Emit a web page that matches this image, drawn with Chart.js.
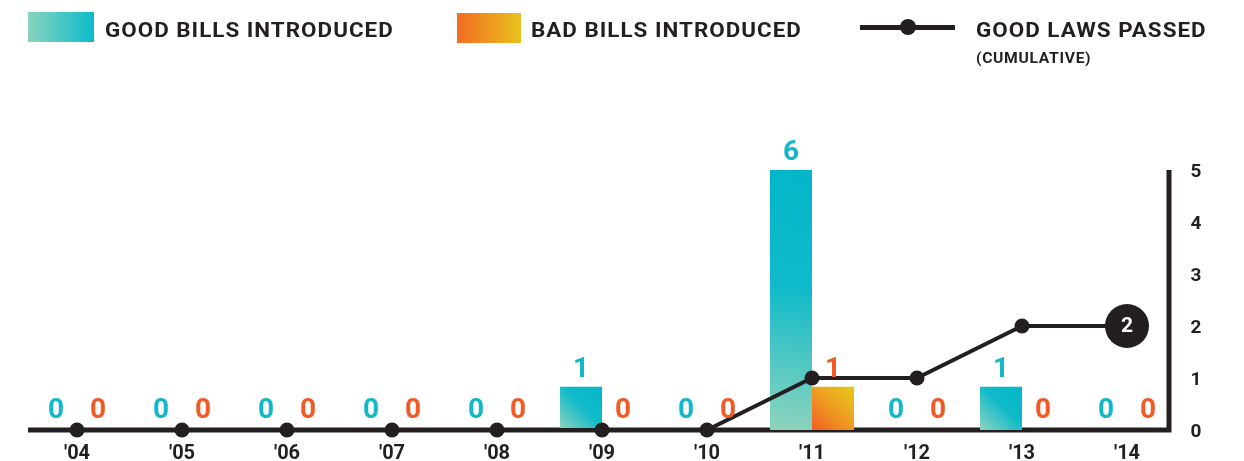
<!DOCTYPE html>
<html>
<head>
<meta charset="utf-8">
<script src="https://cdn.jsdelivr.net/npm/chart.js@4"></script>
<style>
  html, body { margin: 0; padding: 0; background: #fff; }
  .wrap { position: relative; width: 1244px; height: 461px; overflow: hidden; }
  canvas { position: absolute; left: 0; top: 0; }
  .legend { position: absolute; font-family: Roboto, 'Liberation Sans', sans-serif; font-weight: 700; color: #231f20; }
  .swatch { position: absolute; }
  .ltext { position: absolute; font-size: 20px; letter-spacing: 0.9px; white-space: nowrap; line-height: 1; transform: scaleX(1.12); transform-origin: left top; }
  .lsub { position: absolute; font-size: 14px; letter-spacing: 0.6px; white-space: nowrap; line-height: 1; transform: scaleX(1.12); transform-origin: left top; }
</style>
</head>
<body>
<div class="wrap">
  <canvas id="billsChart" width="1244" height="478"></canvas>
  <div class="legend">
    <div class="swatch" style="left:28px;top:12px;width:66px;height:30px;background:linear-gradient(to right,#8ad3be,#0bbccb);"></div>
    <div class="ltext" style="left:105px;top:20px;">GOOD BILLS INTRODUCED</div>
    <div class="swatch" style="left:457px;top:13px;width:64px;height:30px;background:linear-gradient(to right,#f26d22,#e8c11d);"></div>
    <div class="ltext" style="left:531px;top:20px;">BAD BILLS INTRODUCED</div>
    <div class="swatch" style="left:860px;top:24.5px;width:95px;height:5px;background:#231f20;"></div>
    <div class="swatch" style="left:900px;top:19px;width:16px;height:16px;border-radius:50%;background:#231f20;"></div>
    <div class="ltext" style="left:976px;top:20px;">GOOD LAWS PASSED</div>
    <div class="lsub" style="left:976px;top:51px;">(CUMULATIVE)</div>
  </div>
</div>
<script>
// valores
const years = ["'04", "'05", "'06", "'07", "'08", "'09", "'10", "'11", "'12", "'13", "'14"];
const goodBills = [0, 0, 0, 0, 0, 1, 0, 6, 0, 1, 0];
const badBills = [0, 0, 0, 0, 0, 0, 0, 1, 0, 0, 0];
const goodLaws = [0, 0, 0, 0, 0, 0, 0, 1, 1, 2, 2];
const lawTicks = [0, 1, 2, 3, 4, 5];

const INK = '#231f20';
const TEAL = '#12b8c9';
const ORANGE = '#f15a24';
const FONT = "Roboto, 'Liberation Sans', sans-serif";

// gradiente diagonal (baixo-esquerda -> cima-direita) para cada barra
function barGradient(context, stops) {
    const chart = context.chart;
    const { chartArea, scales } = chart;
    if (!chartArea || context.dataIndex === undefined) return stops[stops.length - 1][1];
    const cx = scales.x.getPixelForValue(context.dataIndex);
    const w = (scales.x.width / years.length) * 0.8 / 2;
    const left = context.datasetIndex === 0 ? cx - w : cx;
    const value = context.raw || 0;
    const top = scales.y.getPixelForValue(value);
    const bottom = scales.y.getPixelForValue(0);
    const g = chart.ctx.createLinearGradient(left, bottom, left + w, top);
    stops.forEach(s => g.addColorStop(s[0], s[1]));
    return g;
}

const axisPlugin = {
    id: 'axisLines',
    beforeDatasetsDraw(chart) {
        const { ctx, chartArea, scales } = chart;
        const x0 = scales.y2.getPixelForValue(0);
        const axisX = scales.x.getPixelForValue(years.length - 1) + 42;
        ctx.save();
        ctx.strokeStyle = INK;
        ctx.lineWidth = 5;
        ctx.beginPath();
        ctx.moveTo(chartArea.left + 3.5, x0);
        ctx.lineTo(axisX + 2.5, x0);
        ctx.moveTo(axisX, scales.y2.getPixelForValue(5));
        ctx.lineTo(axisX, x0 + 2.5);
        ctx.stroke();
        ctx.fillStyle = INK;
        ctx.font = 'bold 19px ' + FONT;
        ctx.textAlign = 'center';
        ctx.textBaseline = 'middle';
        lawTicks.forEach(t => {
            ctx.fillText(String(t), axisX + 27, scales.y2.getPixelForValue(t) + 2);
        });
        ctx.restore();
    },
    afterDatasetsDraw(chart) {
        const { ctx } = chart;
        ctx.save();
        ctx.font = 'bold 28px ' + FONT;
        ctx.textAlign = 'center';
        ctx.textBaseline = 'alphabetic';
        [[0, goodBills, TEAL], [1, badBills, ORANGE]].forEach(([idx, vals, color]) => {
            chart.getDatasetMeta(idx).data.forEach((bar, i) => {
                ctx.fillStyle = color;
                ctx.fillText(String(vals[i]), bar.x, bar.y - (vals[i] === 0 ? 12 : 10));
            });
        });
        // rótulo dentro do último ponto
        const pts = chart.getDatasetMeta(2).data;
        const last = pts[pts.length - 1];
        ctx.fillStyle = '#fff';
        ctx.font = 'bold 21px ' + FONT;
        ctx.textBaseline = 'middle';
        ctx.fillText(String(goodLaws[goodLaws.length - 1]), last.x, last.y + 1);
        ctx.restore();
    }
};

new Chart(document.getElementById('billsChart'), {
    type: 'bar',
    data: {
        labels: years,
        datasets: [{
            label: 'Good bills introduced',
            data: goodBills,
            backgroundColor: c => barGradient(c, [[0, '#8fd4bd'], [0.55, '#0fbac9'], [1, '#02b6ca']]),
            categoryPercentage: 0.8,
            barPercentage: 1.0,
            yAxisID: 'y',
            order: 2
        }, {
            label: 'Bad bills introduced',
            data: badBills,
            backgroundColor: c => barGradient(c, [[0, '#f15d25'], [0.5, '#ee9b21'], [1, '#e6cb1c']]),
            categoryPercentage: 0.8,
            barPercentage: 1.0,
            yAxisID: 'y',
            order: 2
        }, {
            type: 'line',
            label: 'Good laws passed (cumulative)',
            data: goodLaws,
            borderColor: INK,
            backgroundColor: INK,
            borderWidth: 4,
            pointRadius: goodLaws.map((v, i) => i === goodLaws.length - 1 ? 22 : 7.5),
            pointBackgroundColor: INK,
            pointBorderWidth: 0,
            tension: 0,
            clip: false,
            yAxisID: 'y2',
            order: 1
        }]
    },
    options: {
        responsive: false,
        animation: false,
        layout: { padding: { left: 24.5, right: 64.5, top: 170, bottom: 0 } },
        plugins: { legend: { display: false }, tooltip: { enabled: false } },
        scales: {
            x: {
                grid: { display: false, drawTicks: false },
                border: { display: false },
                ticks: { color: INK, font: { family: FONT, size: 20, weight: 'bold' }, padding: 12, maxRotation: 0 }
            },
            y: { display: false, min: 0, max: 6 },
            y2: { display: false, min: 0, max: 5 }
        }
    },
    plugins: [axisPlugin]
});
</script>
</body>
</html>
